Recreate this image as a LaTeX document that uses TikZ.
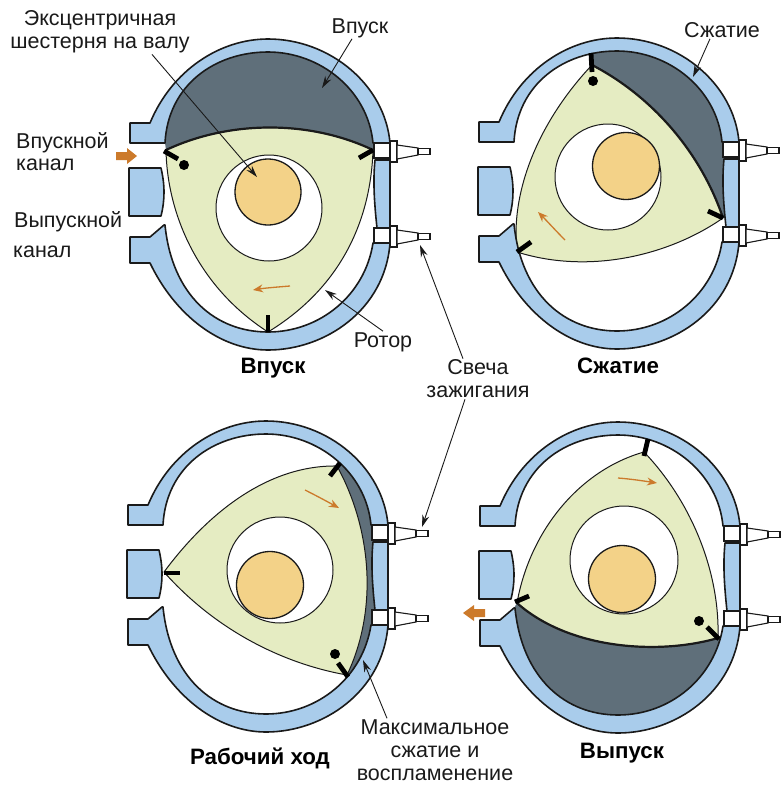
\documentclass[tikz,border=0pt]{standalone}
\usepackage{fontspec}
\setmainfont{Liberation Sans}
\definecolor{hsg}{HTML}{A9CCEB}
\definecolor{chamber}{HTML}{5F6F7A}
\definecolor{rotorc}{HTML}{E5ECC2}
\definecolor{flow}{HTML}{CC7A2B}
\definecolor{shaftc}{HTML}{F3D288}
\definecolor{ink}{HTML}{1A1A1A}
\usetikzlibrary{arrows.meta}
\tikzset{
  hsgpart/.style={draw=ink,line width=1.6pt,fill=hsg,line join=round},
  rotorbody/.style={draw=ink,line width=1pt,fill=rotorc,line join=round},
  gas/.style={fill=chamber},
  hole/.style={draw=ink,line width=1pt,fill=white},
  shaft/.style={draw=ink,line width=1.3pt,fill=shaftc},
  seal/.style={draw=black,line width=4.8pt},
  ball/.style={fill=black},
  thickedge/.style={draw=ink,line width=2.2pt},
  turn/.style={draw=flow,line width=1.3pt,-{Stealth[length=10pt,width=8pt]}},
  blockarrow/.style={fill=flow},
  leader/.style={draw=ink,line width=.9pt,-{Stealth[length=12pt,width=7pt]}},
  plain/.style={font=\fontsize{21.5}{23}\selectfont,text=ink,inner sep=1pt,align=center},
  title/.style={font=\fontsize{22.3}{23}\selectfont\bfseries,text=black,inner sep=1pt},
  plug/.pic={
    \draw[ink,line width=1.1pt,fill=white] (-16,-8) rectangle (0,7);
    \draw[ink,line width=1.1pt,fill=white] (0,-10) rectangle (7,11);
    \draw[ink,line width=1.1pt,fill=white] (7,-6) -- (28,-3) -- (28,4) -- (7,8) -- cycle;
    \draw[ink,line width=1.1pt,fill=white] (28,-2.5) rectangle (40,3.5);
  }
}
\newcommand\hsgbody{%
  \draw[hsgpart] (130,123) -- (150,123) .. controls (172,70) and (220,39) .. (268,39) .. controls (330,39) and (385,85) .. (390,143) -- (373,143) .. controls (368,90) and (320,52) .. (268,52) .. controls (215,52) and (168,85) .. (165,143) -- (130,143) -- cycle;
  \draw[hsgpart] (375,160) -- (390,160) -- (390,228) -- (377,228) .. controls (374,200) and (373,180) .. (375,160) -- cycle;
  \draw[hsgpart] (129,168) -- (161,168) .. controls (165,185) and (165,200) .. (161,216) -- (129,216) -- cycle;
  \draw[hsgpart] (164,225) -- (150,237) -- (130,237) -- (130,263) -- (150,263) .. controls (175,315) and (220,350) .. (268,350) .. controls (325,350) and (385,310) .. (390,243) -- (373,243) .. controls (365,295) and (320,332) .. (268,332) .. controls (215,332) and (172,295) .. (165,225) -- cycle;
  \pic at (390,151) {plug};
  \pic at (390,236) {plug};
}
\begin{document}
\begin{tikzpicture}[x=1pt,y=-1pt]
\useasboundingbox (0,0) rectangle (781,785);
\fill[white] (0,0) rectangle (781,785);

%% Panel 1
\fill[gas] (166,150) -- (165,143) .. controls (168,85) and (215,52) .. (268,52) .. controls (320,52) and (368,90) .. (373,143) -- (373,150) -- cycle;
\draw[rotorbody] (166,150) .. controls (167,210) and (195,285) .. (268,332) .. controls (345,285) and (371,215) .. (373,150) .. controls (310,120) and (230,120) .. (166,150) -- cycle;
\draw[thickedge] (373,150) .. controls (310,120) and (230,120) .. (166,150);
\draw[hole] (269,208) circle (53);
\draw[shaft] (268,192) circle (33);
\hsgbody
\draw[seal] (164,151) -- (178,159);
\draw[seal] (359,158) -- (373,150);
\draw[seal] (268,315) -- (268,332);
\fill[ball] (184,165) circle (5);
\draw[turn] (290,286) .. controls (278,287) and (265,288) .. (253,290);
\fill[blockarrow] (116,152) -- (127,152) -- (127,148) -- (137,156) -- (127,164) -- (127,160) -- (116,160) -- cycle;

%% Panel 2
\fill[gas] (592,52) -- (620,45) -- (690,65) -- (725,120) -- (730,145) -- (725,218) -- (723,218) .. controls (700,150) and (650,95) .. (592,65) -- cycle;
\draw[rotorbody] (592,65) .. controls (650,95) and (700,150) .. (723,218) .. controls (670,255) and (590,275) .. (517,252) .. controls (510,190) and (540,120) .. (592,65) -- cycle;
\draw[thickedge] (592,65) .. controls (650,95) and (700,150) .. (723,218);
\draw[hole] (608,177) circle (53);
\draw[shaft] (626,166) circle (33.5);
\begin{scope}[shift={(349,-1)}]\hsgbody\end{scope}
\draw[seal] (591,53) -- (592,72);
\draw[seal] (708,211) -- (723,218);
\draw[seal] (517,252) -- (531,242);
\fill[ball] (593,81) circle (5);
\draw[turn] (565,240) .. controls (556,231) and (547,221) .. (538,212);

%% Panel 3
\fill[gas] (340,464) -- (360,470) -- (378,525) -- (385,540) -- (385,620) -- (372,655) -- (348,677) -- (347,675) .. controls (378,610) and (372,530) .. (337,466) -- cycle;
\draw[rotorbody] (337,466) .. controls (372,530) and (378,610) .. (347,675) .. controls (290,665) and (220,635) .. (164,572) .. controls (210,510) and (270,465) .. (337,466) -- cycle;
\draw[hole] (280,570) circle (53);
\draw[shaft] (270,585) circle (33.5);
\begin{scope}[shift={(-2,382)}]\hsgbody\end{scope}
\draw[seal] (164,573) -- (180,573);
\draw[seal] (330,476) -- (340,463);
\draw[seal] (338,663) -- (348,677);
\fill[ball] (335,654) circle (5);
\draw[turn] (305,490) .. controls (317,496) and (328,502) .. (339,508);

%% Panel 4
\fill[gas] (517,603) -- (514,608) -- (510,646) -- (550,700) -- (618,724) -- (690,700) -- (722,660) -- (720,638) -- (718,638) .. controls (660,655) and (570,650) .. (517,603) -- cycle;
\draw[rotorbody] (644,452) .. controls (690,500) and (720,570) .. (718,638) .. controls (660,655) and (570,650) .. (517,603) .. controls (530,530) and (580,470) .. (644,452) -- cycle;
\draw[thickedge] (718,638) .. controls (660,655) and (570,650) .. (517,603);
\draw[hole] (624,560) circle (54);
\draw[shaft] (622,579) circle (33.5);
\begin{scope}[shift={(350,383)}]\hsgbody\end{scope}
\draw[seal] (648,439) -- (644,456);
\draw[seal] (515,602) -- (529,596);
\draw[seal] (707,627) -- (719,639);
\fill[ball] (699,621) circle (5);
\draw[turn] (618,478) .. controls (631,479) and (644,481) .. (657,483);
\fill[blockarrow] (485,609) -- (474,609) -- (474,605) -- (463,613) -- (474,621) -- (474,617) -- (485,617) -- cycle;

%% Labels
\node[plain] (ecc) at (100,32) {Эксцентричная\\шестерня на валу};
\node[plain] (intake) at (360,28) {Впуск};
\node[plain] (comp) at (722,30) {Сжатие};
\node[plain,anchor=west] (inport) at (15,143) {Впускной};
\node[plain,anchor=west] (inportb) at (15,165) {канал};
\node[plain,anchor=west] (outport) at (13,222) {Выпускной};
\node[plain,anchor=west] (outportb) at (12,252) {канал};
\node[plain] (rotorlbl) at (383,342) {Ротор};
\node[plain] (spark) at (478,379) {Свеча\\зажигания};
\node[plain] (maxc) at (435,750) {Максимальное\\сжатие и\\воспламенение};
\node[title] (t1) at (273,368) {Впуск};
\node[title] (t2) at (618,366) {Сжатие};
\node[title] (t3) at (260,758) {Рабочий ход};
\node[title] (t4) at (622,753) {Выпуск};

\coordinate (tipecc) at (257,177);
\coordinate (tipintake) at (322,88);
\coordinate (tipcomp) at (693,77);
\coordinate (tiprotor) at (325,290);
\coordinate (tipplugA) at (420,245);
\coordinate (tipplugB) at (422,527);
\coordinate (tipmax) at (363,660);
\draw[leader] ([xshift=52pt]ecc.south) -- (tipecc);
\draw[leader] ([xshift=-8pt]intake.south) -- (tipintake);
\draw[leader] ([xshift=-12pt]comp.south) -- (tipcomp);
\draw[leader] (rotorlbl.north) -- (tiprotor);
\draw[leader] ([xshift=-15pt]spark.north) -- (tipplugA);
\draw[leader] ([xshift=-13pt]spark.south) -- (tipplugB);
\draw[leader] ([xshift=-48pt]maxc.north) -- (tipmax);
\end{tikzpicture}
\end{document}
